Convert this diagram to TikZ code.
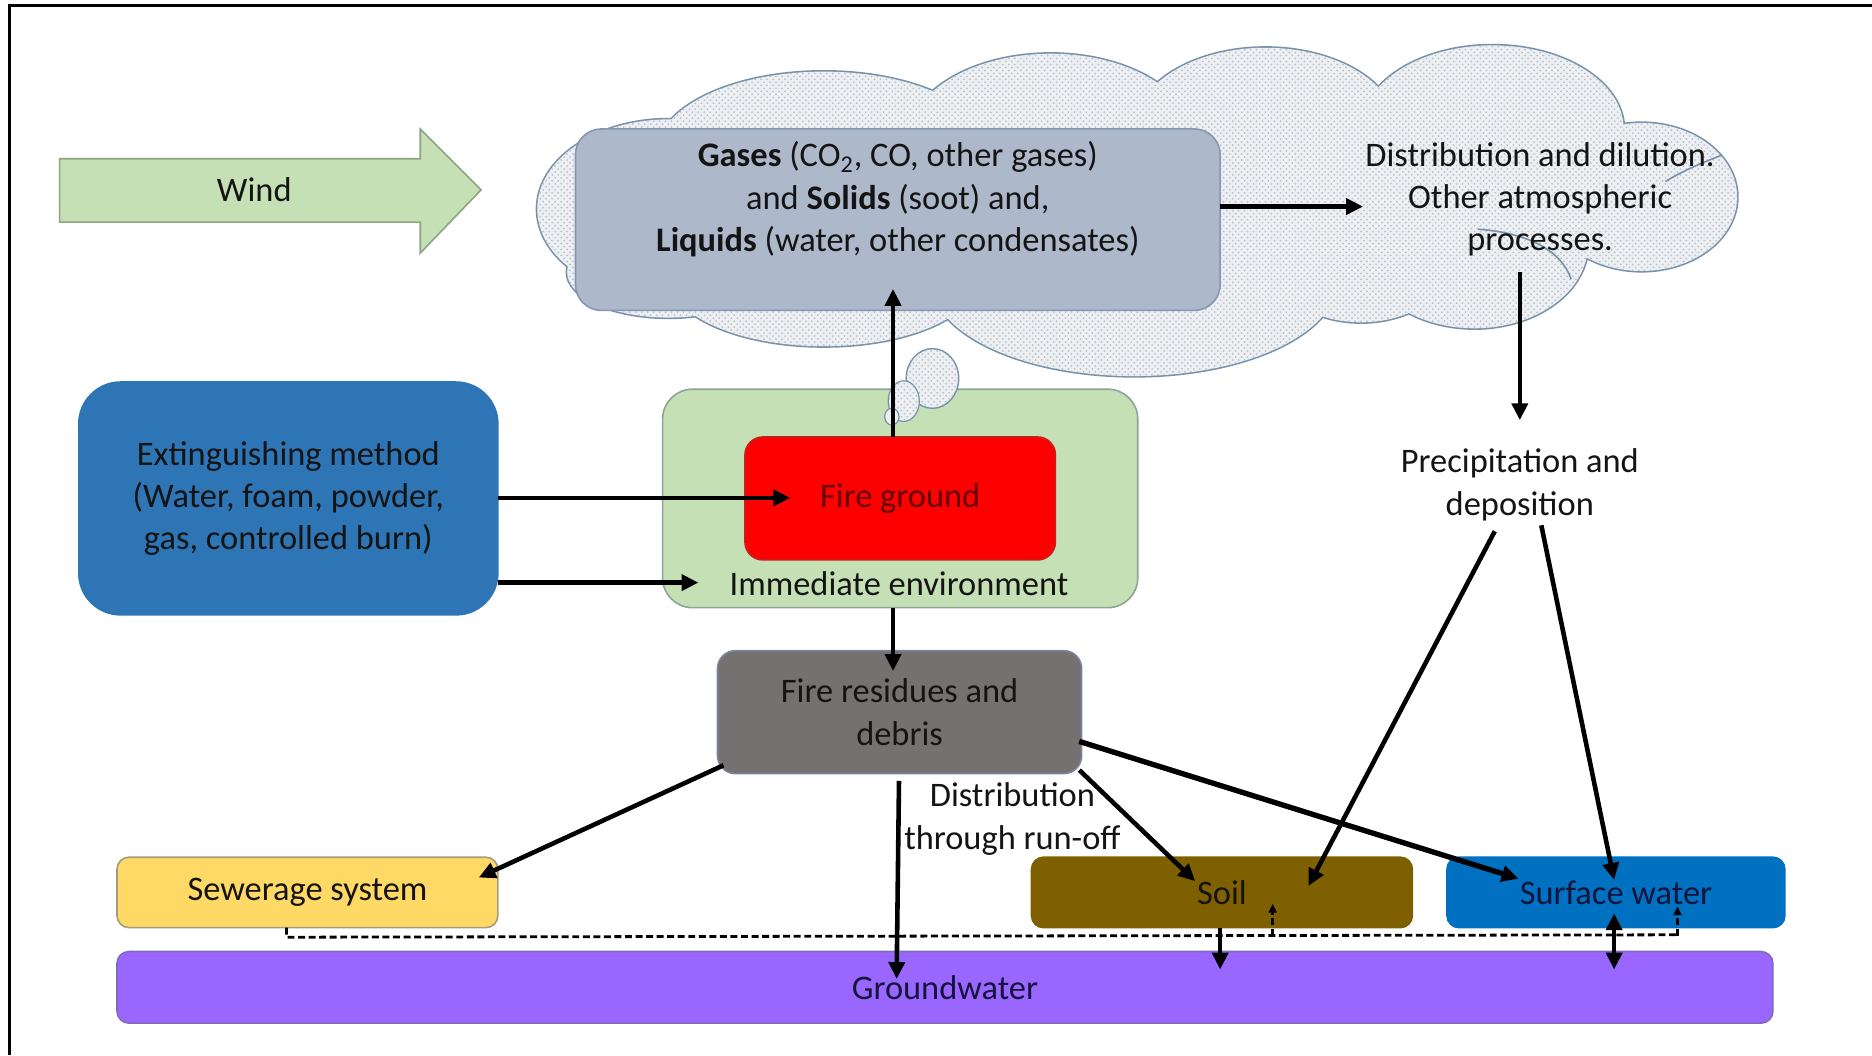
\documentclass[tikz,border=0pt]{standalone}
\usepackage{fontspec}
\setmainfont{Carlito}
\usetikzlibrary{calc,arrows.meta,patterns}

\definecolor{gasfill}{RGB}{173,185,202}
\definecolor{gasline}{RGB}{132,151,176}
\definecolor{extfill}{RGB}{46,117,182}
\definecolor{envfill}{RGB}{197,224,180}
\definecolor{envline}{RGB}{140,165,150}
\definecolor{firefill}{RGB}{255,0,0}
\definecolor{fireline}{RGB}{200,30,30}
\definecolor{firetext}{RGB}{100,0,0}
\definecolor{resfill}{RGB}{118,113,113}
\definecolor{resline}{RGB}{120,135,155}
\definecolor{sewfill}{RGB}{255,217,102}
\definecolor{sewline}{RGB}{165,155,125}
\definecolor{soilfill}{RGB}{127,96,0}
\definecolor{surffill}{RGB}{0,112,192}
\definecolor{gwfill}{RGB}{153,102,255}
\definecolor{gwline}{RGB}{125,105,190}
\definecolor{cloudfill}{RGB}{236,239,243}
\definecolor{cloudline}{RGB}{120,145,170}
\definecolor{windfill}{RGB}{197,224,180}
\definecolor{windline}{RGB}{140,165,130}
\definecolor{txt}{RGB}{20,20,20}
\definecolor{navytxt}{RGB}{20,20,60}

\newcommand\cloudshapepath{%
 (560,175) ellipse [x radius=66pt, y radius=45pt]
 (560,228) ellipse [x radius=51pt, y radius=22.8pt]
 (690,128) ellipse [x radius=84pt, y radius=40.8pt]
 (880,118) ellipse [x radius=72pt, y radius=43.8pt]
 (1060,108) ellipse [x radius=66pt, y radius=40.8pt]
 (1250,108) ellipse [x radius=66pt, y radius=42pt]
 (1375,165) ellipse [x radius=48pt, y radius=37.2pt]
 (1235,205) ellipse [x radius=57pt, y radius=42pt]
 (1140,195) ellipse [x radius=54pt, y radius=45pt]
 (950,235) ellipse [x radius=102pt, y radius=48pt]
 (690,232) ellipse [x radius=78pt, y radius=34.8pt]}

\begin{document}
\begin{tikzpicture}[x=0.6pt,y=-0.6pt,
  font=\fontsize{17.3}{21.3}\selectfont,
  box/.style={draw, line width=0.8pt, inner sep=0pt, outer sep=0pt, align=center, text=txt},
  lbl/.style={inner sep=0pt, outer sep=0pt, align=center, text=txt},
  arr/.style={-{Triangle[length=8.5pt,width=8pt]}, line width=2.3pt, black},
  darr/.style={{Triangle[length=8.5pt,width=8pt]}-{Triangle[length=8.5pt,width=8pt]}, line width=2.3pt, black},
  dsh/.style={dash pattern=on 3.5pt off 1.8pt, line width=1.4pt, black},
  dsharr/.style={dsh, -{Triangle[length=4.5pt,width=4pt]}}
]
\useasboundingbox (0,0) rectangle (1568,884);
\fill[white] (0,0) rectangle (1568,884);

% frame
\draw[line width=1.5pt] (8,884) -- (8,5) -- (1568,5);

% cloud
\draw[cloudline, line width=1.6pt] \cloudshapepath;
\fill[cloudfill] \cloudshapepath;
\fill[pattern=crosshatch dots, pattern color=black!25] \cloudshapepath;
% a few inner cloud arcs
\draw[cloudline, line width=0.8pt] (1395,152) .. controls (1415,140) and (1430,135) .. (1442,130);
\draw[cloudline, line width=0.8pt] (1238,192) .. controls (1280,195) and (1308,210) .. (1316,234);

% wind arrow
\draw[windline, fill=windfill, line width=0.8pt]
  (50,133) -- (352,133) -- (352,108) -- (403,159) -- (352,212) -- (352,186) -- (50,186) -- cycle;
\node[lbl] (wind) at (213,159) {Wind};

% gases box
\node[box, draw=gasline, fill=gasfill, rounded corners=13pt,
      minimum width=324pt, minimum height=91.2pt] (gases) at (752,184) {};
\node[lbl] (gtxt) at (752,167) {\textbf{Gases} (CO\textsubscript{2}, CO, other gases)\\
  and \textbf{Solids} (soot) and,\\ \textbf{Liquids} (water, other condensates)};

\node[lbl] (dist) at (1290,167) {Distribution and dilution.\\Other atmospheric\\processes.};
\node[lbl] (precip) at (1273,406) {Precipitation and\\deposition};

% extinguishing
\node[box, draw=extfill, fill=extfill, rounded corners=21pt,
      minimum width=210.6pt, minimum height=117pt] (ext) at (241.5,417.5)
      {Extinguishing method\\(Water, foam, powder,\\gas, controlled burn)};

% immediate environment
\node[box, draw=envline, fill=envfill, rounded corners=15pt,
      minimum width=238.8pt, minimum height=109.8pt] (env) at (754,417.5) {};
\node[lbl] (envtxt) at (753,489) {Immediate environment};

% bubbles
\draw[cloudline, line width=0.7pt, fill=cloudfill] (781,317) ellipse [x radius=13.2pt, y radius=15pt];
\fill[pattern=crosshatch dots, pattern color=black!25] (781,317) ellipse [x radius=12.9pt, y radius=14.7pt];
\draw[cloudline, line width=0.6pt, fill=cloudfill] (757,336) ellipse [x radius=7.8pt, y radius=10.2pt];
\fill[pattern=crosshatch dots, pattern color=black!25] (757,336) ellipse [x radius=7.5pt, y radius=9.9pt];
\draw[cloudline, line width=0.6pt, fill=cloudfill] (747,349) ellipse [x radius=3.6pt, y radius=4.2pt];

% fire ground
\node[box, draw=fireline, fill=firefill, text=firetext, rounded corners=9pt,
      minimum width=156pt, minimum height=61.8pt] (fire) at (754,417.5) {Fire ground};

% residues
\node[box, draw=resline, fill=resfill, rounded corners=9pt,
      minimum width=183pt, minimum height=61.8pt] (res) at (753.5,596.5)
      {Fire residues and\\debris};

\node[lbl] (runoff) at (848,686) {Distribution\\through run-off};

% bottom boxes
\node[box, draw=sewline, fill=sewfill, rounded corners=6pt,
      minimum width=191.4pt, minimum height=35.4pt] (sew) at (257.5,747.5) {Sewerage system};
\node[box, draw=soilfill, fill=soilfill, rounded corners=6pt,
      minimum width=191.4pt, minimum height=35.4pt] (soil) at (1023.5,747.5) {Soil};
\node[box, draw=surffill, fill=surffill, text=navytxt, rounded corners=6pt,
      minimum width=169.8pt, minimum height=35.4pt] (surf) at (1353.5,747.5) {Surface water};
\node[box, draw=gwline, fill=gwfill, text=navytxt, rounded corners=6pt,
      minimum width=832.2pt, minimum height=36pt] (gw) at (791.5,827) {Groundwater};

% connectors
\draw[arr] ($(gases.east)+(0,-11)$) -- ($(dist.west)+(-2,6)$);
\draw[arr] ($(fire.north)+(-6,0)$) -- ($(gases.south)+(-4,-18)$);
\draw[arr] ($(env.south)+(-6,0)$) -- ($(res.north)+(-5.5,17)$);
\draw[arr] ($(ext.east)+(0,-0.5)$) -- ($(fire.west)+(38,-0.5)$);
\draw[arr] ($(ext.east)+(0,70.5)$) -- ($(env.west)+(30,70.5)$);
\draw[arr] ($(dist.center)+(-17,61)$) -- ($(precip.center)+(0,-54)$);
\draw[arr] ($(precip.center)+(-21,39)$) -- ($(soil.center)+(72.5,-5.5)$);
\draw[arr] ($(precip.center)+(18,34)$) -- ($(surf.center)+(-1.5,-10.5)$);
\draw[arr] ($(res.center)+(-147.5,44.5)$) -- ($(sew.center)+(143.5,-12.5)$);
\draw[arr] ($(res.center)+(-0.5,57.5)$) -- ($(gw.center)+(-40.5,-7)$);
\draw[arr] ($(res.center)+(150.5,48.5)$) -- ($(soil.center)+(-22.5,-9.5)$);
\draw[arr, line width=2.7pt] ($(res.center)+(150.5,24.5)$) -- ($(surf.center)+(-81.5,-11.5)$);
\draw[arr] ($(soil.south)+(-1.5,0)$) -- ($(gw.center)+(230.5,-15)$);
\draw[darr] ($(surf.center)+(-1.5,17.5)$) -- ($(gw.center)+(560.5,-15)$);

% dashed connections
\coordinate (dA) at ($(sew.south)+(-17.5,8)$);
\draw[dsh] ($(sew.south)+(-17.5,0)$) -- (dA) -- ($(surf.south)+(51.5,6)$);
\draw[dsharr] ($(surf.south)+(51.5,6.7)$) -- ($(surf.south)+(51.5,-18)$);
\draw[dsharr] ($(soil.south)+(42.5,7)$) -- ($(soil.south)+(42.5,-20)$);
\end{tikzpicture}
\end{document}
